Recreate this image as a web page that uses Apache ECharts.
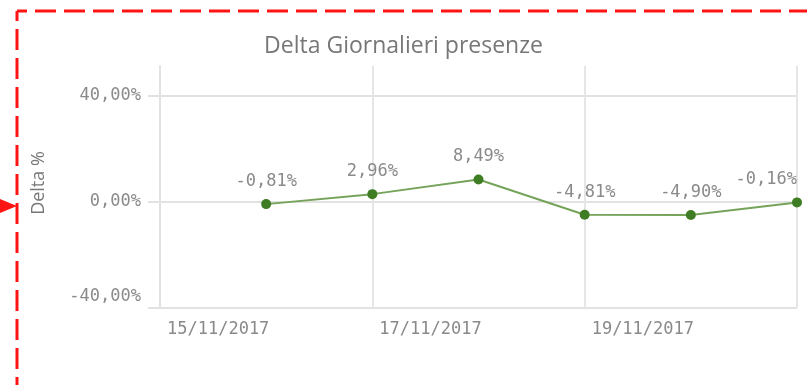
<!DOCTYPE html>
<html>
<head>
<meta charset="utf-8">
<script src="https://cdn.jsdelivr.net/npm/echarts@6/dist/echarts.min.js"></script>
<style>
  html, body { margin: 0; padding: 0; background: #fff; }
  #chart { width: 807px; height: 385px; }
</style>
</head>
<body>
<div id="chart"></div>
<script>
// Daily dates shown on the x axis
const days = ['15/11/2017', '16/11/2017', '17/11/2017', '18/11/2017', '19/11/2017', '20/11/2017', '21/11/2017'];
// Daily presence delta, in percent ('-' = no value for that day)
const deltaPct = ['-', -0.81, 2.96, 8.49, -4.81, -4.90, -0.16];
// Y axis tick values (percent)
const yTicks = [-40, 0, 40];
const yMin = -40;
const yMax = 51.3;

const fmtPct = v => v.toFixed(2).replace('.', ',') + '%';

const grey = '#8a8a8a';
const mono = '"DejaVu Sans Mono", monospace';
const sans = '"Open Sans", "Noto Sans", sans-serif';

const lastIdx = deltaPct.length - 1;
const seriesData = deltaPct.map((v, i) => {
  if (i === lastIdx) {
    return { value: v, label: { align: 'right' } };
  }
  return v;
});

const chart = echarts.init(document.getElementById('chart'), null, { renderer: 'canvas' });

chart.setOption({
  animation: false,
  backgroundColor: '#ffffff',
  title: {
    text: 'Delta Giornalieri presenze',
    left: 'center',
    top: 35,
    padding: 0,
    textStyle: { fontFamily: sans, fontSize: 23, fontWeight: 'normal', color: '#777777' }
  },
  grid: { left: 160, right: 10, top: 66, bottom: 77, containLabel: false },
  xAxis: {
    type: 'category',
    data: days,
    boundaryGap: false,
    axisLine: { show: true, lineStyle: { color: '#e2e2e2', width: 2 } },
    axisTick: {
      show: true,
      length: 35,
      interval: (i) => i > 0 && i % 2 === 0,
      lineStyle: { color: '#e6e6e6', width: 2 }
    },
    splitLine: {
      show: true,
      interval: (i) => i > 0 && i % 2 === 0,
      lineStyle: { color: '#e6e6e6', width: 2 }
    },
    axisLabel: {
      interval: (i) => i % 2 === 0 && i < lastIdx,
      align: 'left',
      padding: [0, 0, 0, 7],
      margin: 13,
      fontFamily: mono,
      fontSize: 17,
      color: grey
    }
  },
  yAxis: {
    type: 'value',
    min: yMin,
    max: yMax,
    interval: 40,
    name: 'Delta %',
    nameLocation: 'middle',
    nameGap: 112,
    nameRotate: 90,
    nameTextStyle: { fontFamily: sans, fontSize: 18, color: '#777777', padding: [0, 0, 0, 8] },
    axisLine: { show: true, lineStyle: { color: '#e2e2e2', width: 2 } },
    axisTick: {
      show: true,
      length: 12,
      lineStyle: { color: '#e2e2e2', width: 2 }
    },
    splitLine: {
      show: true,
      showMaxLine: false,
      lineStyle: { color: ['#e2e2e2', '#c6c6c6', '#e2e2e2', 'rgba(0,0,0,0)'], width: 2 }
    },
    axisLabel: {
      margin: 19,
      fontFamily: mono,
      fontSize: 17,
      color: grey,
      showMaxLabel: false,
      formatter: (v) => {
        if (!yTicks.includes(v)) return '';
        return v === yMin ? '{low|' + fmtPct(v) + '}' : fmtPct(v);
      },
      rich: {
        low: { fontFamily: mono, fontSize: 17, color: grey, padding: [0, 0, 22, 0] }
      }
    }
  },
  series: [{
    type: 'line',
    data: seriesData,
    symbol: 'circle',
    symbolSize: 10,
    clip: false,
    lineStyle: { color: '#76a35a', width: 2 },
    itemStyle: { color: '#3f7d24' },
    label: {
      show: true,
      position: 'top',
      distance: 9,
      fontFamily: mono,
      fontSize: 17,
      color: grey,
      formatter: (p) => fmtPct(p.value)
    },
    z: 3
  }],
  graphic: [
    // dashed red frame (top and left edges)
    {
      type: 'polyline',
      shape: { points: [[17, 11], [830, 11]] },
      style: { stroke: '#ff1414', lineWidth: 3, lineDash: [21, 8], lineDashOffset: 11, fill: null },
      silent: true
    },
    {
      type: 'polyline',
      shape: { points: [[17, 11], [17, 400]] },
      style: { stroke: '#ff1414', lineWidth: 3, lineDash: [21, 8], lineDashOffset: 11, fill: null },
      silent: true
    },
    // pointer arrow
    {
      type: 'polygon',
      shape: { points: [[0, 199], [0, 213], [17, 206]] },
      style: { fill: '#ff1414' },
      silent: true
    }
  ]
});
</script>
</body>
</html>
